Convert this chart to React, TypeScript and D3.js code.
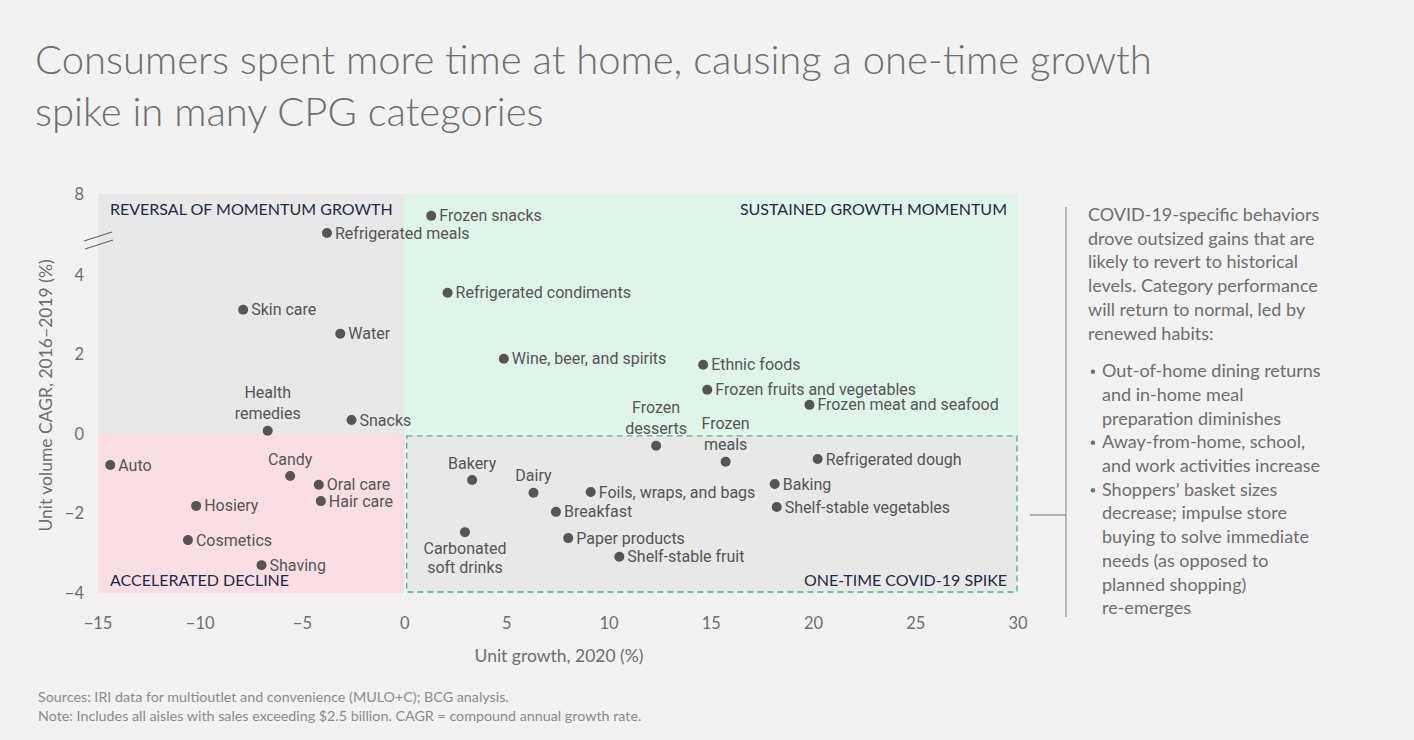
import React from "react";
import * as d3 from "d3";

const categories = [
  "Frozen snacks", "Refrigerated meals", "Refrigerated condiments", "Skin care", "Water",
  "Wine, beer, and spirits", "Ethnic foods", "Frozen fruits and vegetables", "Frozen meat and seafood",
  "Health remedies", "Snacks", "Frozen desserts", "Frozen meals", "Refrigerated dough", "Auto",
  "Candy", "Oral care", "Hair care", "Hosiery", "Cosmetics", "Shaving", "Bakery", "Dairy",
  "Foils, wraps, and bags", "Breakfast", "Baking", "Shelf-stable vegetables",
  "Carbonated soft drinks", "Paper products", "Shelf-stable fruit",
];
const unitGrowth2020 = [
  1.3, -3.8, 2.1, -7.9, -3.15,
  4.85, 14.6, 14.8, 19.8,
  -6.7, -2.6, 12.3, 15.7, 20.2, -14.4,
  -5.6, -4.2, -4.1, -10.2, -10.6, -7.0, 3.3, 6.3,
  9.1, 7.4, 18.1, 18.2,
  2.95, 8.0, 10.5,
];
const cagr2016to2019 = [
  6.4, 5.15, 3.55, 3.12, 2.52,
  1.89, 1.74, 1.11, 0.73,
  0.08, 0.35, -0.3, -0.7, -0.63, -0.78,
  -1.06, -1.28, -1.69, -1.81, -2.67, -3.3, -1.16, -1.48,
  -1.46, -1.96, -1.26, -1.84,
  -2.47, -2.62, -3.09,
];
const xTicks = [-15, -10, -5, 0, 5, 10, 15, 20, 25, 30];
const yTicks = [-4, -2, 0, 2, 4, 8];
const quadrantLabels = [
  "REVERSAL OF MOMENTUM GROWTH", "SUSTAINED GROWTH MOMENTUM",
  "ACCELERATED DECLINE", "ONE-TIME COVID-19 SPIKE",
];
const titleLines = [
  "Consumers spent more time at home, causing a one-time growth",
  "spike in many CPG categories",
];
const introLines = [
  "COVID-19-specific behaviors", "drove outsized gains that are", "likely to revert to historical",
  "levels. Category performance", "will return to normal, led by", "renewed habits:",
];
const bullets = [
  ["Out-of-home dining returns", "and in-home meal", "preparation diminishes"],
  ["Away-from-home, school,", "and work activities increase"],
  ["Shoppers\u2019 basket sizes", "decrease; impulse store", "buying to solve immediate", "needs (as opposed to", "planned shopping)", "re-emerges"],
];
const footnotes = [
  "Sources: IRI data for multioutlet and convenience (MULO+C); BCG analysis.",
  "Note: Includes all aisles with sales exceeding $2.5 billion. CAGR = compound annual growth rate.",
];

// label placement styles
const labelStyle: Record<string, { pos: string; lines?: string[] }> = {
  "Health remedies": { pos: "above", lines: ["Health", "remedies"] },
  "Candy": { pos: "above" },
  "Bakery": { pos: "above" },
  "Dairy": { pos: "above" },
  "Frozen desserts": { pos: "above", lines: ["Frozen", "desserts"] },
  "Frozen meals": { pos: "above", lines: ["Frozen", "meals"] },
  "Carbonated soft drinks": { pos: "below", lines: ["Carbonated", "soft drinks"] },
};

const W = 1414, H = 740;
const TXT = "#6e6e6e";
const DOT = "#555555";
const labelFont = "Roboto, 'Noto Sans', sans-serif";
const mainFont = "Lato, 'Open Sans', sans-serif";

export default function App() {
  const x = d3.scaleLinear().domain([-15, 30]).range([98, 1018]);
  const y = d3.scaleLinear().domain([-4, 5, 8]).range([593, 235, 194]);
  const x0 = x(0), y0 = y(0);
  const points = categories.map((c, i) => ({ name: c, gx: unitGrowth2020[i], gy: cagr2016to2019[i] }));
  const lh = 23.7;
  let rowY = 221;
  const rightRows: { text: string; bullet: boolean; indent: boolean; y: number }[] = [];
  introLines.forEach((t) => { rightRows.push({ text: t, bullet: false, indent: false, y: rowY }); rowY += lh; });
  rowY += 14;
  bullets.forEach((b) => b.forEach((t, j) => { rightRows.push({ text: t, bullet: j === 0, indent: true, y: rowY }); rowY += lh; }));

  return (
    <svg width={W} height={H} style={{ position: "absolute", left: 0, top: 0, background: "#f2f2f2" }}>
      <rect x={0} y={0} width={W} height={H} fill="#f2f2f2" />
      {titleLines.map((t, i) => (
        <text key={t} x={35} y={74 + i * 52} fontFamily={mainFont} fontWeight={300} fontSize={40} fill={TXT}>{t}</text>
      ))}
      {/* quadrants */}
      <rect x={x(-15)} y={y(8)} width={x0 - x(-15)} height={y0 - y(8)} fill="#e8e8e8" />
      <rect x={x0} y={y(8)} width={x(30) - x0} height={y0 - y(8)} fill="#dff5e9" />
      <rect x={x(-15)} y={y0} width={x0 - x(-15)} height={y(-4) - y0} fill="#fbdde4" />
      <rect x={x0 + 2} y={y0 + 2} width={x(30) - x0 - 3} height={y(-4) - y0 - 3} fill="#e8e8e8"
        stroke="#3dbf85" strokeWidth={1.3} strokeDasharray="6 4" />
      <g fontFamily={mainFont} fontSize={16} fill="#1f2a44">
        <text x={x(-15) + 12} y={y(8) + 21}>{quadrantLabels[0]}</text>
        <text x={x(30) - 11} y={y(8) + 21} textAnchor="end">{quadrantLabels[1]}</text>
        <text x={x(-15) + 12} y={y(-4) - 7}>{quadrantLabels[2]}</text>
        <text x={x(30) - 11} y={y(-4) - 7} textAnchor="end">{quadrantLabels[3]}</text>
      </g>
      {/* axes ticks */}
      <g fontFamily={mainFont} fontSize={16.5} fill={TXT}>
        {yTicks.map((t) => (
          <text key={t} x={84} y={y(t)} dy="0.35em" textAnchor="end">{t < 0 ? "\u2212" + Math.abs(t) : t}</text>
        ))}
        {xTicks.map((t) => (
          <text key={t} x={x(t)} y={623} dy="0.35em" textAnchor="middle">{t < 0 ? "\u2212" + Math.abs(t) : t}</text>
        ))}
      </g>
      <g fontFamily={mainFont} fontSize={17.5} fill={TXT}>
        <text x={(x(-15) + x(30)) / 2 + 1} y={656} dy="0.35em" textAnchor="middle">Unit growth, 2020 (%)</text>
        <text transform={`translate(46,${(y(8) + y(-4)) / 2 + 2}) rotate(-90)`} dy="0.35em" textAnchor="middle">Unit volume CAGR, 2016–2019 (%)</text>
      </g>
      {/* axis break */}
      <g stroke="#666" strokeWidth={1.2}>
        <line x1={84} y1={y(5) + 6} x2={112} y2={y(5) - 3} />
        <line x1={85} y1={y(5) + 14} x2={113} y2={y(5) + 5} />
      </g>
      {/* points */}
      <g fontFamily={labelFont} fontSize={16} fill={DOT}>
        {points.map((p) => {
          const cx = x(p.gx), cy = y(p.gy);
          const st = labelStyle[p.name];
          let label;
          if (!st) {
            label = <text x={cx + 8} y={cy} dy="0.35em">{p.name}</text>;
          } else {
            const lines = st.lines || [p.name];
            const n = lines.length;
            label = lines.map((l, k) => {
              const ly = st.pos === "above" ? cy - 17 - (n - 1 - k) * 21 : cy + 16 + k * 19.5;
              return <text key={k} x={cx} y={ly} dy="0.35em" textAnchor="middle">{l}</text>;
            });
          }
          return (
            <g key={p.name}>
              <circle cx={cx} cy={cy} r={5} fill={DOT} />
              {label}
            </g>
          );
        })}
      </g>
      {/* right panel */}
      <line x1={1066} y1={207} x2={1066} y2={617} stroke="#9a9a9a" strokeWidth={1.3} />
      <line x1={1030} y1={515} x2={1066} y2={515} stroke="#9a9a9a" strokeWidth={1.3} />
      <g fontFamily={mainFont} fontSize={18} fill={TXT}>
        {rightRows.map((r, i) => (
          <g key={i}>
            {r.bullet && <circle cx={1093} cy={r.y - 5.5} r={2.2} fill={TXT} />}
            <text x={r.indent ? 1102 : 1088} y={r.y}>{r.text}</text>
          </g>
        ))}
      </g>
      <g fontFamily={mainFont} fontSize={14.3} fill="#8c8c8c">
        {footnotes.map((f, i) => (
          <text key={i} x={38} y={702 + i * 19}>{f}</text>
        ))}
      </g>
    </svg>
  );
}
